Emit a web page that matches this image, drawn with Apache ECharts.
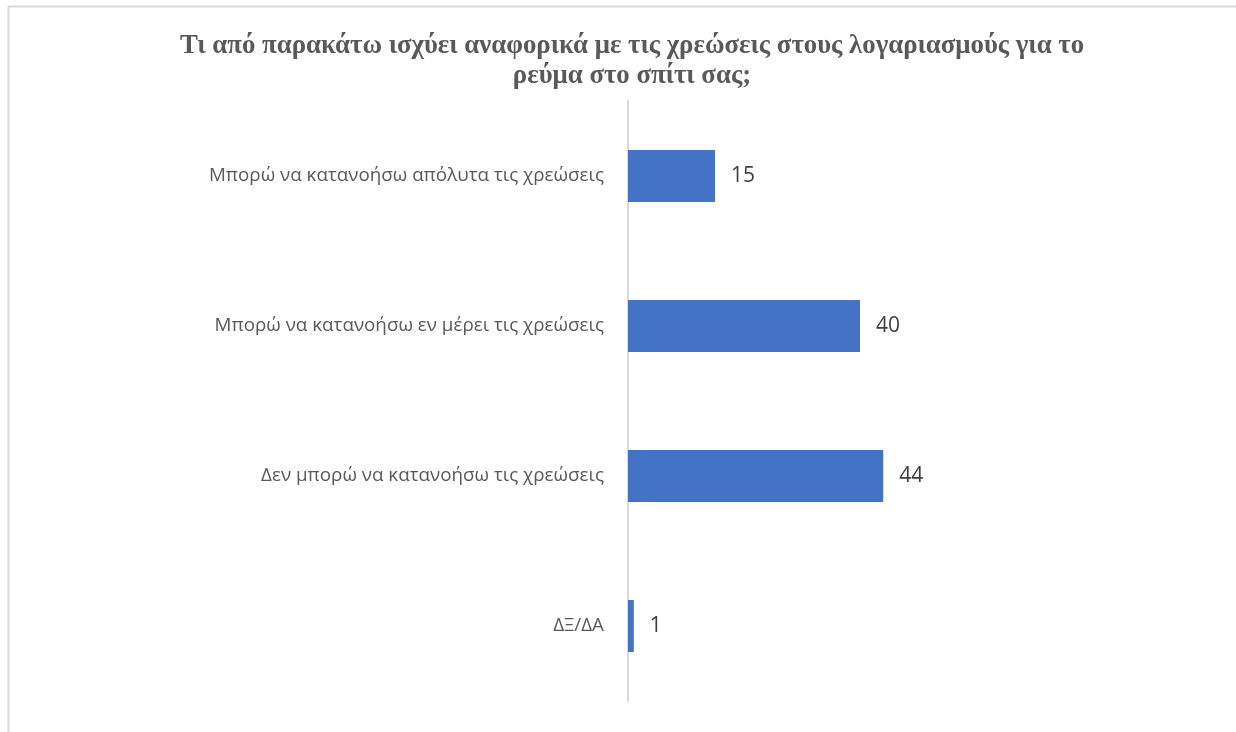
<!DOCTYPE html>
<html>
<head>
<meta charset="utf-8">
<script src="https://cdn.jsdelivr.net/npm/echarts@6/dist/echarts.min.js"></script>
<style>
  html, body { margin: 0; padding: 0; background: #fff; }
  #chart { width: 1236px; height: 732px; }
</style>
</head>
<body>
<div id="chart"></div>
<script>
// Survey answers, listed top to bottom
const categories = [
  'Μπορώ να κατανοήσω απόλυτα τις χρεώσεις',
  'Μπορώ να κατανοήσω εν μέρει τις χρεώσεις',
  'Δεν μπορώ να κατανοήσω τις χρεώσεις',
  'ΔΞ/ΔΑ'
];
const values = [15, 40, 44, 1];
const titleText = 'Τι από παρακάτω ισχύει αναφορικά με τις χρεώσεις στους λογαριασμούς για το\nρεύμα στο σπίτι σας;';

const chart = echarts.init(document.getElementById('chart'), null, { renderer: 'canvas' });

chart.setOption({
  backgroundColor: '#ffffff',
  animation: false,
  graphic: [{
    type: 'rect',
    left: 6, top: 4,
    shape: { width: 1300, height: 800 },
    style: { fill: 'none', stroke: '#d9d9d9', lineWidth: 2 },
    silent: true
  }],
  title: {
    text: titleText,
    left: 627,
    textAlign: 'center',
    top: 26,
    textStyle: {
      fontFamily: '"Liberation Serif", "Times New Roman", serif',
      fontWeight: 'bold',
      fontSize: 26.8,
      lineHeight: 30,
      color: '#595959'
    }
  },
  grid: { left: 628, top: 101, right: 28, bottom: 31, containLabel: false },
  xAxis: {
    type: 'value',
    min: 0, max: 100,
    show: false
  },
  yAxis: {
    type: 'category',
    inverse: true,
    data: categories,
    axisLine: { show: true, lineStyle: { color: '#d9d9d9', width: 2 } },
    axisTick: { show: false },
    axisLabel: {
      margin: 24,
      fontFamily: '"Open Sans", "Noto Sans", sans-serif',
      fontSize: 18.8,
      color: '#595959'
    }
  },
  series: [{
    type: 'bar',
    data: values,
    barWidth: 52,
    itemStyle: { color: '#4472c4' },
    label: {
      show: true,
      position: 'right',
      distance: 16,
      fontFamily: '"Open Sans", "Noto Sans", sans-serif',
      fontSize: 21,
      color: '#404040'
    }
  }]
});
</script>
</body>
</html>
